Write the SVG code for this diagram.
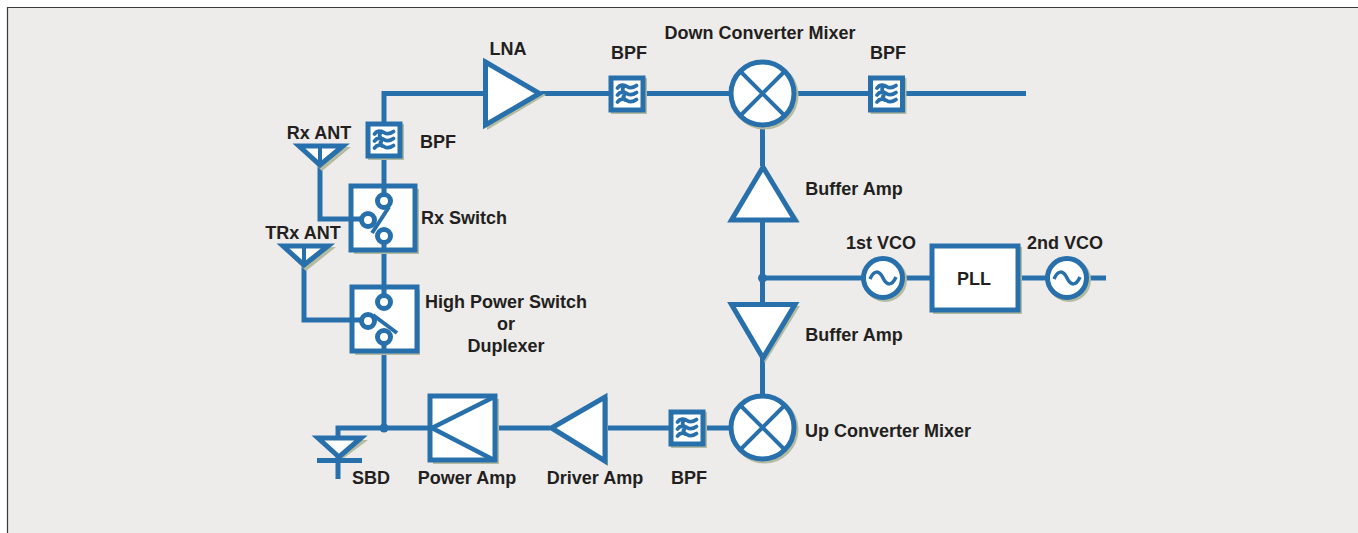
<svg xmlns="http://www.w3.org/2000/svg" width="1358" height="533" viewBox="0 0 1358 533">
<style>
text{font-family:"Liberation Sans",Arial,sans-serif;font-weight:bold;font-size:18px;fill:#231f20;text-anchor:middle}
.s{fill:#fff;stroke:#2870ab;stroke-width:5}
.sh{fill:#b5bb9f;stroke:none}
.l{fill:none;stroke:#2870ab;stroke-width:5}
.t{fill:none;stroke:#2870ab;stroke-width:4}
.w{fill:none;stroke:#2870ab;stroke-width:3.800;stroke-linecap:round}
.d{fill:#2870ab}
</style>
<defs>
<g id="bpf">
<rect class="sh" x="-16" y="-16" width="36" height="36"/>
<rect class="s" x="-16" y="-16" width="32" height="32"/>
<path class="w" d="M-9.500,-6C-7,-9.500 -3,-9.500 0,-7.500S6,-6 9.500,-8.500M-9.500,1C-7,-2.500 -3,-2.500 0,-0.500S6,1 9.500,-1.500M-9.500,8C-7,4.500 -3,4.500 0,6.500S6,8 9.500,5.500M-3,-8C-5,-5 -5,-3 -2,-1M-2,0C-4,2 -4,4 -2,6"/>
</g>
<g id="mixer">
<circle class="sh" cx="2" cy="2" r="34"/>
<circle class="s" r="31.500"/>
<path class="t" d="M-22,-22L22,22M22,-22L-22,22"/>
</g>
<g id="vco">
<circle class="sh" cx="2" cy="2" r="22"/>
<circle class="s" r="19.500"/>
<path class="l" style="stroke-width:3.500" d="M-13,1C-9,-8 -4,-8 0,0S9,8 13,-1"/>
</g>
</defs>
<rect width="1358" height="533" fill="#fff"/>
<rect x="8" y="8" width="1350" height="525" fill="#edecea"/>
<path d="M7.500,533V7.500H1358" fill="none" stroke="#3a3a3a" stroke-width="1.200"/>
<g id="connectors">
<path class="l" d="M384,122V93.500H486M541,93.500H609M645,93.500H730M794,93.500H869M905,93.500H1026"/>
<path class="l" d="M384,158V201M384,236V302M384,337V428"/>
<path class="l" d="M320,146V219H368M304,246V320H368"/>
<path class="l" d="M338,438V428H430M497,428H550M606,428H669M705,428H730"/>
<path class="l" d="M762.500,126V166M762.500,222V303M762.500,358V396"/>
<path class="l" d="M762,278H863M903,278H931M1019,278H1047M1087,278H1106"/>
<path class="l" d="M338,456V479"/>
</g>
<g id="lna"><path class="sh" d="M487,63L546,95L487,130Z"/><path class="s" d="M485.500,62L539.500,93.500L485.500,125Z"/><text x="508" y="55">LNA</text></g>
<g id="bpf1"><use href="#bpf" x="384" y="140"/><text x="438" y="148">BPF</text></g>
<g id="bpf2"><use href="#bpf" x="627" y="94"/><text x="629" y="59">BPF</text></g>
<g id="bpf3"><use href="#bpf" x="886.500" y="94"/><text x="888" y="59">BPF</text></g>
<g id="bpf4"><use href="#bpf" x="687" y="428"/><text x="689" y="484">BPF</text></g>
<g id="down-mixer"><use href="#mixer" x="762.500" y="93.500"/><text x="760" y="39">Down Converter Mixer</text></g>
<g id="up-mixer"><use href="#mixer" x="762.500" y="427.500"/><text x="888" y="437">Up Converter Mixer</text></g>
<g id="buffer-amp-1"><path class="sh" d="M733,222H800L765,169Z"/><path class="s" d="M731.500,220L763,167L795,220Z"/><text x="854" y="195">Buffer Amp</text></g>
<g id="buffer-amp-2"><path class="sh" d="M734,306H800L765,363Z"/><path class="s" d="M731.500,304.500H795L763,358Z"/><text x="854" y="341">Buffer Amp</text></g>
<g id="junction-vco"><circle class="d" cx="762.500" cy="278" r="4.500"/></g>
<g id="vco1"><use href="#vco" x="883" y="278"/><text x="881" y="249">1st VCO</text></g>
<g id="pll"><rect class="sh" x="933" y="247" width="89" height="67"/><rect class="s" x="932" y="246" width="86" height="64"/><text x="974" y="285">PLL</text></g>
<g id="vco2"><use href="#vco" x="1067" y="278"/><text x="1065" y="249">2nd VCO</text></g>
<g id="rx-ant"><path class="sh" d="M298,147H351L322,171Z"/><path class="s" d="M299,146H343L320,165Z"/><path class="t" d="M320,146V165"/><text x="319" y="139">Rx ANT</text></g>
<g id="trx-ant"><path class="sh" d="M282,247H336L306,271Z"/><path class="s" d="M283,246H328L304,265Z"/><path class="t" d="M304,246V265"/><text x="303" y="239">TRx ANT</text></g>
<g id="rx-switch"><rect class="sh" x="354" y="189" width="65" height="65"/><rect class="s" x="351" y="186" width="64" height="64"/>
<path class="l" d="M351,219H362M384,186V194M384,243V250"/>
<circle class="s" cx="384" cy="201" r="6.500"/><circle class="s" cx="368" cy="220" r="6.500"/><circle class="s" cx="384" cy="236" r="6.500"/>
<path class="t" d="M372,233L389,207"/><text x="464" y="224">Rx Switch</text></g>
<g id="hp-switch"><rect class="sh" x="355" y="290" width="65" height="65"/><rect class="s" x="352" y="287" width="65" height="64"/>
<path class="l" d="M352,320H362M384,287V295M384,344V351"/>
<circle class="s" cx="384" cy="302" r="6.500"/><circle class="s" cx="368" cy="321" r="6.500"/><circle class="s" cx="384" cy="337" r="6.500"/>
<path class="t" d="M373,315L397,333"/>
<text x="506" y="308">High Power Switch</text><text x="506" y="330">or</text><text x="506" y="352">Duplexer</text></g>
<g id="sbd"><circle class="d" cx="384" cy="428" r="4.500"/><path class="sh" d="M319,440H368L340,461Z"/><path class="s" d="M318,438H361L339,457Z"/><path class="l" d="M317,460.500H362"/><text x="371" y="484">SBD</text></g>
<g id="power-amp"><rect class="sh" x="433" y="399" width="66" height="65"/><rect class="s" x="430" y="396" width="65" height="64"/><path class="t" style="stroke-width:4.500" d="M494,397L432,428L494,460"/><text x="467" y="484">Power Amp</text></g>
<g id="driver-amp"><path class="sh" d="M553,430L608,397V466Z"/><path class="s" d="M551.500,428L605,397V461Z"/><text x="595" y="484">Driver Amp</text></g>
</svg>
